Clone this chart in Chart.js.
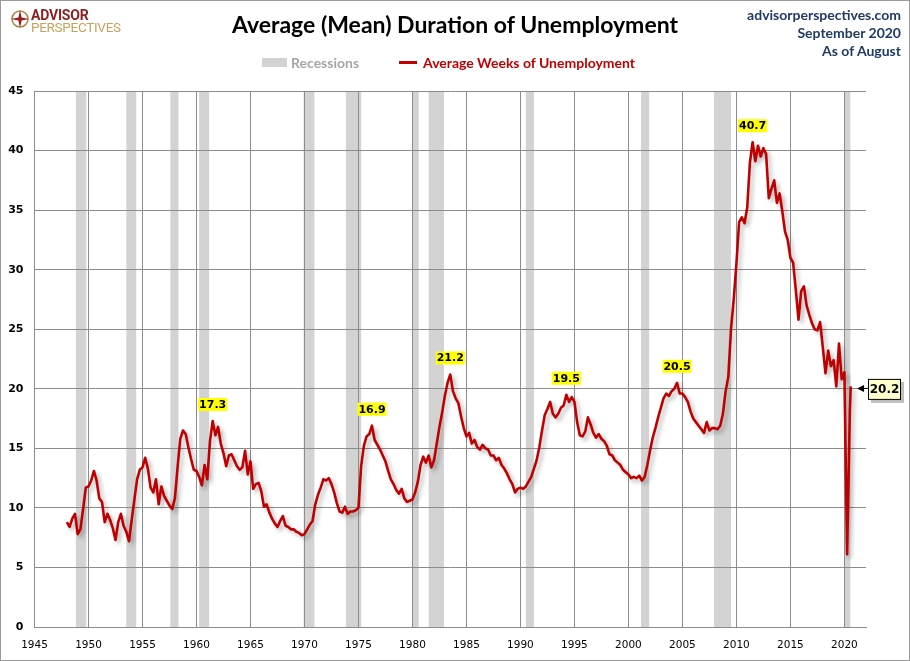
<!DOCTYPE html>
<html>
<head>
<meta charset="utf-8">
<script src="https://cdn.jsdelivr.net/npm/chart.js@4.4.1/dist/chart.umd.min.js"></script>
<style>
  html, body { margin: 0; padding: 0; background: #fff; }
  #wrap { position: relative; width: 910px; height: 661px; overflow: hidden; background: #fff; }
  #wrap canvas { position: absolute; left: 0; top: 0; }
  #frame { position: absolute; left: 0; top: 0; width: 910px; height: 661px; box-sizing: border-box;
           border: 1px solid #9a9a9a; pointer-events: none; }
  .abs { position: absolute; white-space: nowrap; }
  .title { left: 0; width: 910px; top: 10px; text-align: center; font: bold 23px Lato, sans-serif; color: #000; }
  .logo1 { left: 31px; top: 7px; font: bold 14px Roboto, sans-serif; color: #8e1f1f; letter-spacing: -0.2px; }
  .logo2 { left: 31px; top: 19px; font: 13.5px Roboto, sans-serif; color: #c9a25a; letter-spacing: -0.3px; }
  .site { right: 9px; font: bold 14px Lato, sans-serif; color: #1f3b66; text-align: right; }
  .leg { top: 54px; font: bold 14px Lato, sans-serif; }
</style>
</head>
<body>
<div id="wrap">
  <canvas id="chart" width="910" height="661"></canvas>
  <svg class="abs" style="left:10px;top:9px" width="20" height="20" viewBox="0 0 20 20">
    <circle cx="10" cy="10" r="8" fill="none" stroke="#b08a4a" stroke-width="1.6"/>
    <polygon points="10,1 11.6,8.4 19,10 11.6,11.6 10,19 8.4,11.6 1,10 8.4,8.4" fill="#9b1c1c"/>
  </svg>
  <div class="abs logo1">ADVISOR</div>
  <div class="abs logo2">PERSPECTIVES</div>
  <div class="abs title" id="title"></div>
  <div class="abs site" style="top:6px">advisorperspectives.com</div>
  <div class="abs site" style="top:24px">September 2020</div>
  <div class="abs site" style="top:42px">As of August</div>
  <div class="abs" style="left:262px;top:58px;width:25px;height:9px;background:#d3d3d3"></div>
  <div class="abs leg" style="left:291px;color:#a6a6a6" id="leg1"></div>
  <div class="abs" style="left:399px;top:61px;width:18px;height:3px;background:#c00000"></div>
  <div class="abs leg" style="left:423px;color:#c00000" id="leg2"></div>
  <div id="frame"></div>
</div>
<script>
// Average weeks of unemployment, quarterly readings (Jan, Apr, Jul, Oct) from 1948
const startYear = 1948;
const weeks1940s = [8.8, 8.4, 9.1, 9.5, 7.8, 8.2, 9.9, 11.7];
const weeks1950s = [
  11.8, 12.3, 13.1, 12.3, 10.8, 10.5, 8.8, 9.5, 9.0, 8.3, 7.3, 8.8,
  9.5, 8.5, 8.0, 7.2, 9.0, 10.7, 12.4, 13.2, 13.4, 14.2, 13.3, 11.7,
  11.3, 12.4, 10.3, 11.8, 11.0, 10.6, 10.2, 9.9, 10.8, 13.4, 15.8, 16.5,
  16.2, 15.1, 14.1, 13.2
];
const weeks1960s = [
  13.1, 12.6, 11.9, 13.6, 12.4, 15.6, 17.3, 16.1, 16.8, 15.4, 14.6, 13.5,
  14.4, 14.5, 14.0, 13.5, 13.2, 13.4, 14.8, 12.8, 13.9, 11.6, 12.0, 12.1,
  11.4, 10.1, 10.3, 9.6, 9.1, 8.7, 8.4, 8.9, 9.3, 8.5, 8.4, 8.2,
  8.2, 8.0, 7.9, 7.7
];
const weeks1970s = [
  7.8, 8.2, 8.6, 8.9, 10.3, 11.1, 11.7, 12.4, 12.3, 12.5, 12.0, 11.3,
  10.4, 9.7, 9.6, 10.1, 9.5, 9.7, 9.7, 9.8, 10.0, 13.5, 15.2, 16.0,
  16.2, 16.9, 15.7, 15.3, 14.9, 14.4, 13.9, 13.1, 12.4, 12.0, 11.5, 11.2,
  11.6, 10.8, 10.5, 10.6
];
const weeks1980s = [
  10.7, 11.3, 12.2, 13.6, 14.3, 13.8, 14.4, 13.4, 14.0, 15.4, 16.8, 18.0,
  19.4, 20.5, 21.2, 19.8, 19.2, 18.8, 17.7, 16.7, 16.0, 16.3, 15.4, 15.7,
  15.1, 14.9, 15.3, 15.0, 14.9, 14.4, 14.4, 14.0, 14.2, 13.6, 13.3, 12.9,
  12.4, 12.0, 11.3, 11.6
];
const weeks1990s = [
  11.7, 11.6, 11.8, 12.2, 12.6, 13.3, 14.0, 15.1, 16.5, 17.8, 18.3, 18.9,
  17.9, 17.6, 17.9, 18.4, 18.6, 19.5, 18.9, 19.3, 18.9, 17.2, 16.1, 16.0,
  16.4, 17.6, 17.0, 16.3, 15.9, 16.2, 15.8, 15.6, 15.2, 14.5, 14.4, 14.0,
  13.8, 13.6, 13.2, 13.0
];
const weeks2000s = [
  12.8, 12.5, 12.6, 12.5, 12.7, 12.3, 12.6, 13.6, 14.8, 15.9, 16.7, 17.6,
  18.4, 19.2, 19.6, 19.4, 19.8, 20.0, 20.5, 19.6, 19.6, 19.3, 18.9, 18.1,
  17.5, 17.2, 16.9, 16.6, 16.3, 17.2, 16.5, 16.7, 16.7, 16.6, 16.9, 17.9,
  19.8, 21.0, 25.0, 27.5
];
const weeks2010s = [
  30.5, 34.0, 34.4, 33.9, 35.2, 39.0, 40.7, 39.1, 40.4, 39.5, 40.2, 39.7,
  36.0, 36.8, 37.5, 35.6, 36.4, 34.9, 33.2, 32.5, 31.0, 30.6, 28.3, 25.8,
  28.2, 28.6, 27.0, 26.2, 25.5, 25.0, 24.9, 25.6, 23.5, 21.3, 23.2, 21.9,
  22.4, 20.2, 23.8, 20.8
];
const weeks2020 = [21.4, 6.1, 17.9];
const latestDate = 2020 + 7 / 12; // August 2020
const latestWeeks = 20.2;

// NBER recessions (decimal years)
const recessionStart = [1948.83, 1953.5, 1957.58, 1960.25, 1969.92, 1973.83, 1980.0, 1981.5, 1990.5, 2001.17, 2007.92, 2020.0];
const recessionEnd   = [1949.8, 1954.42, 1958.33, 1961.17, 1970.92, 1975.25, 1980.58, 1982.92, 1991.25, 2001.92, 2009.5, 2020.55];

// peaks that get a yellow label
const peakYears  = [1961.5, 1976.25, 1983.5, 1994.25, 2004.5, 2011.5];
const peakValues = [17.3, 16.9, 21.2, 19.5, 20.5, 40.7];

const xTicksFrom = 1945, xTicksTo = 2022;
const yMax = 45;

const chartTitle = "Average (Mean) Duration of Unemployment";
const seriesName = "Average Weeks of Unemployment";
const recessionName = "Recessions";
document.getElementById("title").textContent = chartTitle;
document.getElementById("leg1").textContent = recessionName;
document.getElementById("leg2").textContent = seriesName;

// build the points
const allWeeks = [].concat(weeks1940s, weeks1950s, weeks1960s, weeks1970s, weeks1980s,
                           weeks1990s, weeks2000s, weeks2010s, weeks2020);
const points = allWeeks.map((v, i) => ({ x: startYear + i * 0.25, y: v }));
points.push({ x: latestDate, y: latestWeeks });

// grey recession bands behind the grid
const recessionBands = {
  id: "recessionBands",
  beforeDraw(chart) {
    const { ctx, chartArea, scales } = chart;
    ctx.save();
    ctx.fillStyle = "#d3d3d3";
    for (let i = 0; i < recessionStart.length; i++) {
      const x1 = scales.x.getPixelForValue(recessionStart[i]);
      const x2 = scales.x.getPixelForValue(recessionEnd[i]);
      ctx.fillRect(x1, chartArea.top, x2 - x1, chartArea.bottom - chartArea.top);
    }
    ctx.restore();
  }
};

// soft shadow under the red line
const lineShadow = {
  id: "lineShadow",
  beforeDatasetDraw(chart) {
    const ctx = chart.ctx;
    ctx.save();
    ctx.shadowColor = "rgba(0,0,0,0.28)";
    ctx.shadowBlur = 4;
    ctx.shadowOffsetX = 3;
    ctx.shadowOffsetY = 3;
  },
  afterDatasetDraw(chart) {
    chart.ctx.restore();
  }
};

// peak labels and the latest value callout
const labelsPlugin = {
  id: "labelsPlugin",
  afterDraw(chart) {
    const { ctx, scales, chartArea } = chart;
    ctx.save();
    ctx.font = "bold 11px 'DejaVu Sans'";
    ctx.textAlign = "center";
    ctx.textBaseline = "middle";
    for (let i = 0; i < peakYears.length; i++) {
      const x = scales.x.getPixelForValue(peakYears[i]);
      const y = scales.y.getPixelForValue(peakValues[i]) - 16.5;
      const txt = peakValues[i].toFixed(1);
      const w = ctx.measureText(txt).width + 2;
      ctx.fillStyle = "#ffff00";
      ctx.fillRect(x - w / 2, y - 6.5, w, 13);
      ctx.fillStyle = "#000";
      ctx.fillText(txt, x, y + 0.5);
    }

    // callout for the latest reading
    const py = scales.y.getPixelForValue(latestWeeks) + 2;
    const bx = chartArea.right + 2, bw = 33, bh = 21;
    const by = py - bh / 2 + 1;
    ctx.fillStyle = "rgba(0,0,0,0.25)";
    ctx.fillRect(bx + 3, by + 3, bw, bh);
    ctx.fillStyle = "#ffffcc";
    ctx.fillRect(bx, by, bw, bh);
    ctx.strokeStyle = "#000";
    ctx.lineWidth = 1;
    ctx.strokeRect(bx + 0.5, by + 0.5, bw - 1, bh - 1);
    ctx.fillStyle = "#000";
    ctx.font = "bold 12px 'DejaVu Sans'";
    ctx.fillText(latestWeeks.toFixed(1), bx + bw / 2, py + 1);
    // arrow pointing at the line end
    ctx.beginPath();
    ctx.moveTo(chartArea.right - 9, py);
    ctx.lineTo(chartArea.right - 2, py - 3.5);
    ctx.lineTo(chartArea.right - 2, py + 3.5);
    ctx.closePath();
    ctx.fill();
    ctx.beginPath();
    ctx.moveTo(chartArea.right - 3, py);
    ctx.lineTo(bx, py);
    ctx.stroke();
    ctx.restore();
  }
};

const gridColor = "#8c8c8c";

new Chart(document.getElementById("chart").getContext("2d"), {
  type: "line",
  data: {
    datasets: [
      {
        label: seriesName,
        data: points,
        borderColor: "#c00000",
        backgroundColor: "#c00000",
        borderWidth: 2.6,
        pointRadius: 0,
        tension: 0,
        borderJoinStyle: "round"
      }
    ]
  },
  options: {
    responsive: false,
    animation: false,
    layout: { padding: { left: 8, right: 44, top: 91, bottom: 8 } },
    plugins: {
      legend: { display: false },
      tooltip: { enabled: false }
    },
    scales: {
      x: {
        type: "linear",
        min: xTicksFrom,
        max: xTicksTo,
        afterFit: (scale) => { scale.height = 26; },
        ticks: {
          stepSize: 5,
          includeBounds: false,
          autoSkip: false,
          maxRotation: 0,
          padding: 12,
          color: "#000",
          font: { family: "DejaVu Sans", size: 10.5 },
          callback: (v) => String(v)
        },
        grid: { color: gridColor, lineWidth: 1, drawTicks: false },
        border: { color: gridColor }
      },
      y: {
        min: 0,
        max: yMax,
        afterFit: (scale) => { scale.width = 26.5; },
        ticks: {
          stepSize: 5,
          padding: 11,
          color: "#000",
          font: { family: "DejaVu Sans", size: 11, weight: "bold" }
        },
        grid: { color: gridColor, lineWidth: 1, drawTicks: false },
        border: { color: gridColor }
      }
    }
  },
  plugins: [recessionBands, lineShadow, labelsPlugin]
});
</script>
</body>
</html>
